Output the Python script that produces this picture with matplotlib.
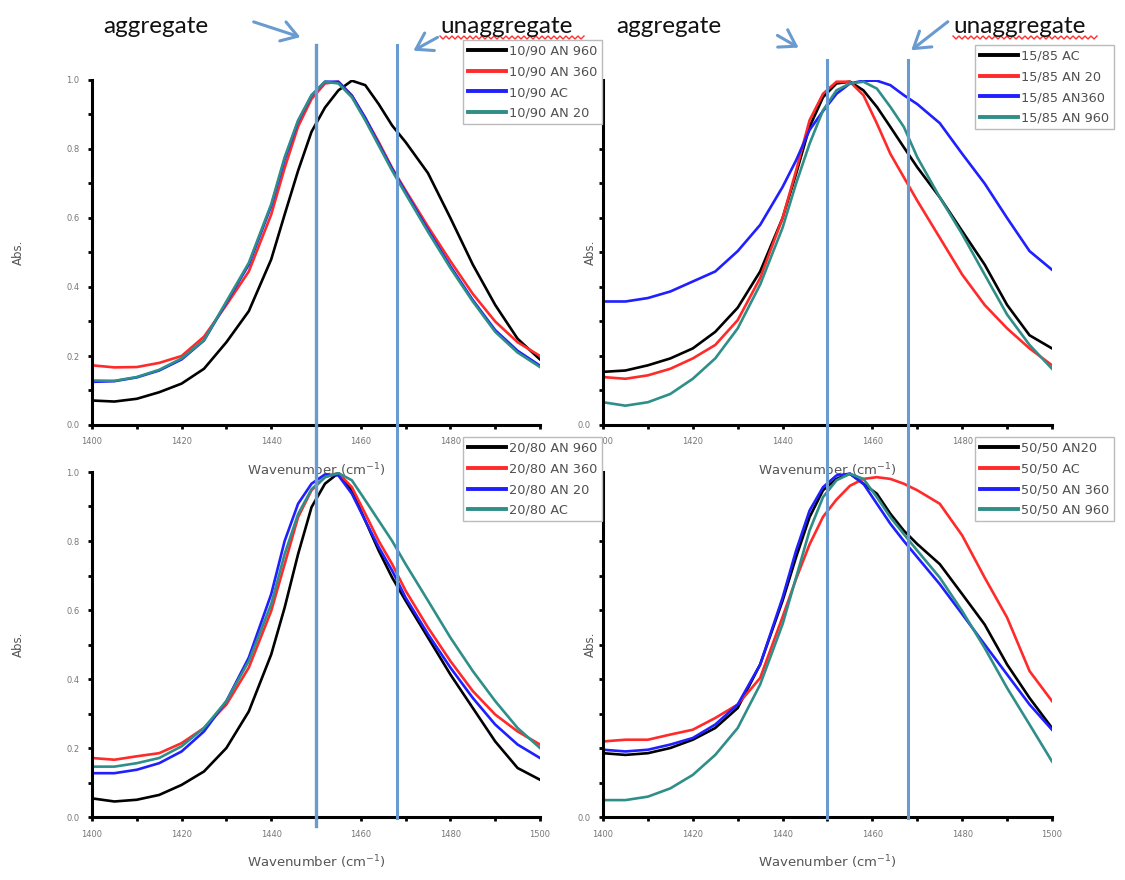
import numpy as np
import matplotlib
matplotlib.use("Agg")
import matplotlib.pyplot as plt
from matplotlib.lines import Line2D
from matplotlib.patches import FancyArrowPatch
from matplotlib.ticker import MultipleLocator

# ---------------- data ----------------
wn = [1400, 1405, 1410, 1415, 1420, 1425, 1430, 1435, 1440, 1443, 1446, 1449,
      1452, 1455, 1458, 1461, 1464, 1467, 1470, 1475, 1480, 1485, 1490, 1495, 1500]

# 10/90
tl_an960 = [0.071, 0.068, 0.076, 0.095, 0.12, 0.163, 0.24, 0.33, 0.48, 0.61, 0.737, 0.85,
            0.92, 0.97, 0.998, 0.985, 0.93, 0.868, 0.82, 0.73, 0.60, 0.465, 0.348, 0.25, 0.19]
tl_an360 = [0.173, 0.167, 0.168, 0.18, 0.2, 0.256, 0.348, 0.445, 0.61, 0.745, 0.865, 0.945,
            0.99, 0.995, 0.955, 0.89, 0.82, 0.745, 0.68, 0.575, 0.475, 0.38, 0.30, 0.24, 0.20]
tl_ac = [0.125, 0.127, 0.138, 0.158, 0.19, 0.245, 0.355, 0.465, 0.635, 0.77, 0.88, 0.955,
         0.995, 0.995, 0.955, 0.89, 0.815, 0.742, 0.675, 0.565, 0.46, 0.362, 0.275, 0.215, 0.172]
tl_an20 = [0.129, 0.128, 0.139, 0.16, 0.193, 0.246, 0.358, 0.47, 0.64, 0.776, 0.883, 0.956,
           0.995, 0.99, 0.95, 0.883, 0.81, 0.737, 0.67, 0.56, 0.455, 0.358, 0.27, 0.21, 0.168]

# 15/85
tr_ac = [0.154, 0.158, 0.173, 0.193, 0.222, 0.27, 0.34, 0.445, 0.6, 0.728, 0.864, 0.95,
         0.99, 0.995, 0.97, 0.922, 0.864, 0.805, 0.747, 0.66, 0.562, 0.465, 0.348, 0.26, 0.222]
tr_an20 = [0.139, 0.134, 0.144, 0.163, 0.193, 0.232, 0.304, 0.426, 0.6, 0.737, 0.883, 0.96,
           0.995, 0.995, 0.956, 0.874, 0.786, 0.718, 0.65, 0.543, 0.436, 0.348, 0.28, 0.222, 0.173]
tr_an360 = [0.358, 0.358, 0.368, 0.387, 0.416, 0.445, 0.504, 0.58, 0.69, 0.767, 0.855, 0.91,
            0.96, 0.99, 0.998, 0.998, 0.985, 0.956, 0.93, 0.875, 0.786, 0.7, 0.6, 0.504, 0.45]
tr_an960 = [0.066, 0.056, 0.066, 0.09, 0.134, 0.193, 0.28, 0.407, 0.572, 0.7, 0.815, 0.912,
            0.97, 0.99, 0.995, 0.975, 0.922, 0.864, 0.776, 0.66, 0.553, 0.436, 0.32, 0.232, 0.163]

# 20/80
bl_an960 = [0.054, 0.045, 0.05, 0.064, 0.093, 0.132, 0.2, 0.306, 0.471, 0.607, 0.762, 0.898,
            0.966, 0.997, 0.946, 0.859, 0.772, 0.694, 0.627, 0.52, 0.413, 0.316, 0.219, 0.142, 0.108]
bl_an360 = [0.171, 0.166, 0.176, 0.185, 0.214, 0.258, 0.326, 0.433, 0.597, 0.733, 0.869, 0.947,
            0.985, 0.997, 0.956, 0.879, 0.8, 0.733, 0.656, 0.549, 0.452, 0.365, 0.297, 0.248, 0.21]
bl_an20 = [0.127, 0.127, 0.137, 0.156, 0.19, 0.248, 0.336, 0.462, 0.646, 0.8, 0.908, 0.966,
           0.993, 0.99, 0.937, 0.859, 0.782, 0.714, 0.636, 0.53, 0.433, 0.345, 0.268, 0.21, 0.171]
bl_ac = [0.146, 0.146, 0.156, 0.171, 0.205, 0.258, 0.336, 0.452, 0.617, 0.762, 0.878, 0.95,
         0.985, 0.997, 0.976, 0.918, 0.859, 0.8, 0.733, 0.627, 0.52, 0.423, 0.336, 0.258, 0.2]

# 50/50
br_an20 = [0.185, 0.18, 0.185, 0.2, 0.224, 0.258, 0.316, 0.442, 0.627, 0.753, 0.869, 0.947,
           0.98, 0.995, 0.966, 0.937, 0.879, 0.83, 0.791, 0.733, 0.646, 0.558, 0.442, 0.345, 0.258]
br_ac = [0.219, 0.224, 0.224, 0.239, 0.253, 0.287, 0.326, 0.403, 0.58, 0.69, 0.79, 0.87,
         0.92, 0.96, 0.98, 0.985, 0.98, 0.966, 0.947, 0.908, 0.816, 0.694, 0.578, 0.423, 0.336]
br_an360 = [0.195, 0.19, 0.195, 0.21, 0.229, 0.268, 0.326, 0.442, 0.636, 0.772, 0.888, 0.956,
            0.99, 0.995, 0.966, 0.908, 0.85, 0.8, 0.753, 0.675, 0.588, 0.5, 0.413, 0.326, 0.253]
br_an960 = [0.049, 0.049, 0.059, 0.083, 0.122, 0.18, 0.258, 0.384, 0.559, 0.694, 0.83, 0.927,
            0.976, 0.995, 0.98, 0.927, 0.869, 0.82, 0.772, 0.694, 0.597, 0.49, 0.374, 0.268, 0.161]

tl_labels = ["10/90 AN 960", "10/90 AN 360", "10/90 AC", "10/90 AN 20"]
tr_labels = ["15/85 AC", "15/85 AN 20", "15/85 AN360", "15/85 AN 960"]
bl_labels = ["20/80 AN 960", "20/80 AN 360", "20/80 AN 20", "20/80 AC"]
br_labels = ["50/50 AN20", "50/50 AC", "50/50 AN 360", "50/50 AN 960"]

agg_lines = [1450, 1468]
xticks = [1400, 1420, 1440, 1460, 1480, 1500]
yticks = [0.0, 0.2, 0.4, 0.6, 0.8, 1.0]

# ---------------- style ----------------
W, H = 1125, 880
COLORS = ["#000000", "#ff2a2a", "#1f1fff", "#2f8f88"]
VBLUE = "#6a9bd0"
GREY = "#555555"

fig = plt.figure(figsize=(W / 100, H / 100), dpi=100)


def fx(px):
    return px / W


def fy(py):
    return 1 - py / H


def make_ax(left_px, top_px, right_px, bottom_px):
    return fig.add_axes([fx(left_px), fy(bottom_px), (right_px - left_px) / W,
                         (bottom_px - top_px) / H], facecolor="none")


ax_tl = make_ax(92, 80, 540, 425)
ax_tr = make_ax(603, 80, 1052, 425)
ax_bl = make_ax(92, 472, 540, 817)
ax_br = make_ax(603, 472, 1052, 817)

panels = [
    (ax_tl, [tl_an960, tl_an360, tl_ac, tl_an20], tl_labels, (463, 40), True, True),
    (ax_tr, [tr_ac, tr_an20, tr_an360, tr_an960], tr_labels, (975, 45), False, True),
    (ax_bl, [bl_an960, bl_an360, bl_an20, bl_ac], bl_labels, (463, 437), True, False),
    (ax_br, [br_an20, br_ac, br_an360, br_an960], br_labels, (975, 437), False, False),
]

for ax, series, labels, legpos, left, top in panels:
    handles = []
    for ys, c, lab in zip(series, COLORS, labels):
        ax.plot(wn, ys, color=c, lw=1.9, solid_joinstyle="round")
        handles.append(Line2D([0], [0], color=c, lw=2.8, label=lab))
    ax.set_xlim(1400, 1500)
    ax.set_ylim(0, 1.0)
    for s in ["top", "right"]:
        ax.spines[s].set_visible(False)
    for s in ["left", "bottom"]:
        ax.spines[s].set_linewidth(2.2)
        ax.spines[s].set_color("black")
    ax.set_xticks(xticks)
    ax.set_yticks(yticks)
    ax.xaxis.set_minor_locator(MultipleLocator(10))
    ax.yaxis.set_minor_locator(MultipleLocator(0.1))
    ax.tick_params(which="both", direction="out", length=3, width=2, color="black",
                   labelsize=6, labelcolor="#777777", pad=6)
    ax.set_yticklabels(["%.1f" % v for v in yticks] if left else
                       ["0.0", "", "", "", "", ""])
    # in the top row the 1500 label sits under the lower legends
    ax.set_xticklabels([str(v) for v in xticks[:-1]] + ["" if top else "1500"])
    ax.set_xlabel("Wavenumber (cm$^{-1}$)", fontsize=9.5, color=GREY)
    ax.xaxis.set_label_coords(0.5, -45 / 345)
    ax.xaxis.label.set_verticalalignment("center")
    ax.set_ylabel("Abs.", fontsize=8.5, color=GREY)
    if left:
        ax.yaxis.set_label_coords(-(92 - 18) / 448, 0.5)
    else:
        ax.yaxis.set_label_coords(-(603 - 590) / 448, 0.5)
    ax.yaxis.label.set_verticalalignment("center")
    leg = fig.legend(handles=handles, loc="upper left",
                     bbox_to_anchor=(fx(legpos[0]), fy(legpos[1])),
                     bbox_transform=fig.transFigure, fontsize=9.3, frameon=True,
                     fancybox=False, framealpha=1, edgecolor="#bbbbbb",
                     handlelength=3.0, handletextpad=0.2, labelspacing=0.6,
                     borderpad=0.35, borderaxespad=0)
    for t in leg.get_texts():
        t.set_color("#505050")
    leg.get_frame().set_linewidth(1.0)

# vertical marker lines spanning the two rows (drawn from the bottom axes)
ax_bl.axvline(agg_lines[0], ymin=(817 - 826) / 345, ymax=(817 - 45) / 345,
              color=VBLUE, lw=2.4, clip_on=False, zorder=10)
ax_bl.axvline(agg_lines[1], ymin=(817 - 818) / 345, ymax=(817 - 45) / 345,
              color=VBLUE, lw=2.2, clip_on=False, zorder=10)
ax_br.axvline(agg_lines[0], ymin=(817 - 818) / 345, ymax=(817 - 60) / 345,
              color=VBLUE, lw=2.2, clip_on=False, zorder=10)
ax_br.axvline(agg_lines[1], ymin=(817 - 818) / 345, ymax=(817 - 60) / 345,
              color=VBLUE, lw=2.2, clip_on=False, zorder=10)

# annotation words
for x0, word in [(103, "aggregate"), (440, "unaggregate"),
                 (616, "aggregate"), (953, "unaggregate")]:
    fig.text(fx(x0), fy(33), word, fontsize=17.5, family="Lato", color="#111111",
             ha="left", va="baseline")

# spell-check squiggles under "unaggregate"
for xa, xb in [(440, 586), (953, 1097)]:
    xs = np.arange(xa, xb + 1, 3.0)
    ys = np.where(np.arange(len(xs)) % 2 == 0, 36.0, 39.0)
    fig.add_artist(Line2D(fx(xs), fy(ys), color="#ff3030", lw=1.0,
                          transform=fig.transFigure))

# arrows
for (x1, y1), (x2, y2) in [((251, 21), (303, 38)), ((440, 36), (411, 52)),
                           ((775, 34), (801, 49)), ((950, 20), (909, 52))]:
    fig.add_artist(FancyArrowPatch((fx(x1), fy(y1)), (fx(x2), fy(y2)),
                                   transform=fig.transFigure,
                                   arrowstyle="->,head_length=7,head_width=4.5",
                                   mutation_scale=1.6, color=VBLUE, lw=2.2))

fig.savefig("out.png", dpi=100, facecolor="white")
